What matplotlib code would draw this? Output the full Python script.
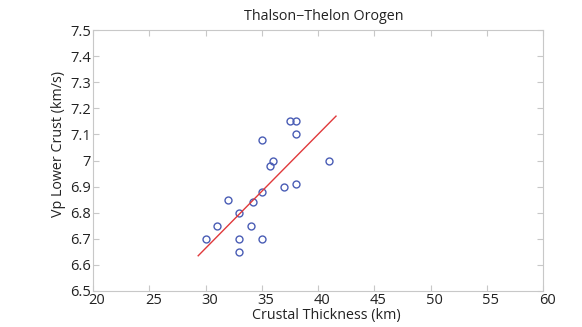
import numpy as np
import matplotlib.pyplot as plt
from matplotlib.transforms import ScaledTranslation

plt.rcParams['font.family'] = ['Open Sans', 'DejaVu Sans']

# crustal thickness (km) vs lower-crust Vp (km/s)
thickness = [30, 31, 32, 33, 33, 33, 34, 34.25, 35, 35, 35, 35.75, 36, 37, 37.5, 38, 38, 38, 41]
vp_lower = [6.7, 6.75, 6.85, 6.8, 6.7, 6.65, 6.75, 6.84, 7.08, 6.88, 6.7, 6.98, 7.0, 6.9, 7.15, 7.15, 7.1, 6.91, 7.0]

# least-squares trend
fit_x = [29.35, 41.6]
fit_y = [6.635, 7.17]

W, H = 582, 327
fig = plt.figure(figsize=(W / 100, H / 100), dpi=100)
ax = fig.add_axes([93 / W, 1 - 291 / H, 450 / W, 261 / H])

ax.plot(thickness, vp_lower, 'o', mfc='none', mec='#4a5db5', ms=5, mew=1)
ax.plot(fit_x, fit_y, color='#e0393b', lw=1)

ax.set_xlim(20, 60)
ax.set_ylim(6.5, 7.5)
ax.set_xticks(np.arange(20, 61, 5))
ax.set_yticks(np.round(np.arange(6.5, 7.51, 0.1), 1))
ax.set_yticklabels(['6.5', '6.6', '6.7', '6.8', '6.9', '7', '7.1', '7.2', '7.3', '7.4', '7.5'])

for s in ax.spines.values():
    s.set_color('#c8c8c8')
    s.set_linewidth(0.8)
ax.tick_params(direction='in', top=True, right=True, length=4, color='#c8c8c8',
               labelsize=10.5, pad=1.5, labelcolor='#222222')
# x labels sit a little right of their ticks
shift = ScaledTranslation(4 / 100, 0, fig.dpi_scale_trans)
for lbl in ax.get_xticklabels():
    lbl.set_transform(lbl.get_transform() + shift)

fs = 10.3
fig.text(324 / W, 1 - 17 / H, 'Thalson\u2212Thelon Orogen', fontsize=fs,
         ha='center', va='center', color='#222222')
fig.text(326 / W, 1 - 315 / H, 'Crustal Thickness (km)', fontsize=fs,
         ha='center', va='center', color='#222222')
fig.text(58 / W, 1 - 144 / H, 'Vp Lower Crust (km/s)', fontsize=fs, rotation=90,
         ha='center', va='center', color='#222222')

fig.savefig('out.png', dpi=100)
